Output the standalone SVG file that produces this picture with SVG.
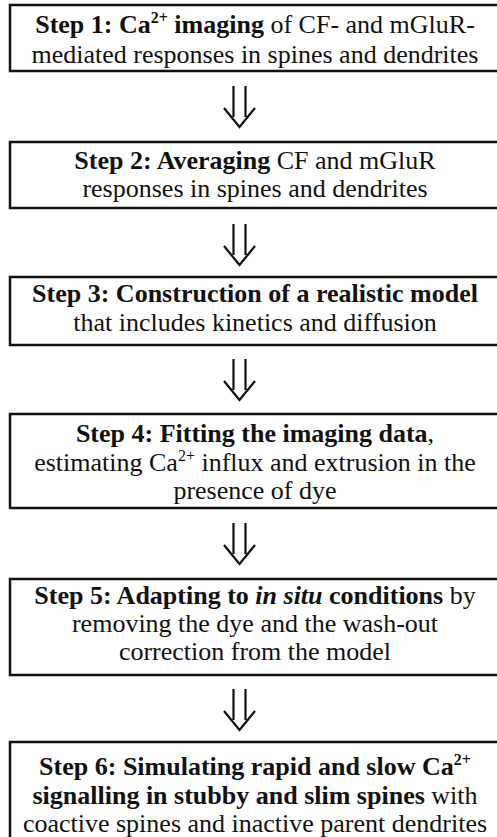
<svg xmlns="http://www.w3.org/2000/svg" width="497" height="837" viewBox="0 0 497 837">
  <style>
    .box { fill: #ffffff; stroke: #111111; stroke-width: 2.5; }
    .lbl { font-family: "Liberation Serif", "DejaVu Serif", serif; font-size: 26px; font-weight: normal; fill: #111111; text-anchor: middle; }
    .b { font-weight: bold; }
    .sup { font-size: 16px; }
    .arrow { fill: none; stroke: #111111; stroke-width: 2.2; stroke-linejoin: miter; }
  </style>
  <defs>
    <!-- double-stem downward arrow, tip at (0,41) -->
    <g id="dblArrow">
      <path class="arrow" d="M-6,0 V31 M6,0 V31 M-15.5,22 L0,41 L15.5,22"/>
    </g>
  </defs>
  <rect width="497" height="837" fill="#ffffff"/>

  <g id="step1">
    <rect class="box" x="10" y="5" width="500" height="66"/>
    <text class="lbl" x="255" y="33"><tspan class="b">Step 1: Ca</tspan><tspan class="b sup" dy="-10">2+</tspan><tspan class="b" dy="10"> imaging</tspan> of CF- and mGluR-</text>
    <text class="lbl" x="255" y="63">mediated responses in spines and dendrites</text>
  </g>

  <g id="step2">
    <rect class="box" x="10" y="142" width="500" height="66"/>
    <text class="lbl" x="255" y="169"><tspan class="b">Step 2: Averaging</tspan>  CF and mGluR</text>
    <text class="lbl" x="255" y="197">responses in spines and dendrites</text>
  </g>

  <g id="step3">
    <rect class="box" x="10" y="277" width="500" height="68"/>
    <text class="lbl b" x="255" y="302">Step 3: Construction of a realistic model</text>
    <text class="lbl" x="255" y="331">that includes kinetics and diffusion</text>
  </g>

  <g id="step4">
    <rect class="box" x="10" y="414" width="500" height="94"/>
    <text class="lbl" x="255" y="442"><tspan class="b">Step 4: Fitting the imaging data</tspan>,</text>
    <text class="lbl" x="255" y="471">estimating Ca<tspan class="sup" dy="-10">2+</tspan><tspan dy="10"> influx and extrusion in the</tspan></text>
    <text class="lbl" x="255" y="499">presence of dye</text>
  </g>

  <g id="step5">
    <rect class="box" x="10" y="579" width="500" height="96"/>
    <text class="lbl" x="255" y="604"><tspan class="b">Step 5: Adapting to </tspan><tspan class="b" font-style="italic">in situ</tspan><tspan class="b"> conditions</tspan> by</text>
    <text class="lbl" x="255" y="632">removing the dye and the wash-out</text>
    <text class="lbl" x="255" y="660">correction from the model</text>
  </g>

  <g id="step6">
    <rect class="box" x="10" y="742" width="500" height="110"/>
    <text class="lbl b" x="255" y="775">Step 6: Simulating rapid and slow Ca<tspan class="sup" dy="-10">2+</tspan></text>
    <text class="lbl" x="255" y="804"><tspan class="b">signalling in stubby and slim spines</tspan> with</text>
    <text class="lbl" x="255" y="832">coactive spines and inactive parent dendrites</text>
  </g>

  <g id="connectors">
    <use href="#dblArrow" x="239.5" y="86"/>
    <use href="#dblArrow" x="239.5" y="224"/>
    <use href="#dblArrow" x="239.5" y="359"/>
    <use href="#dblArrow" x="239.5" y="523"/>
    <use href="#dblArrow" x="239.5" y="689"/>
  </g>
</svg>
